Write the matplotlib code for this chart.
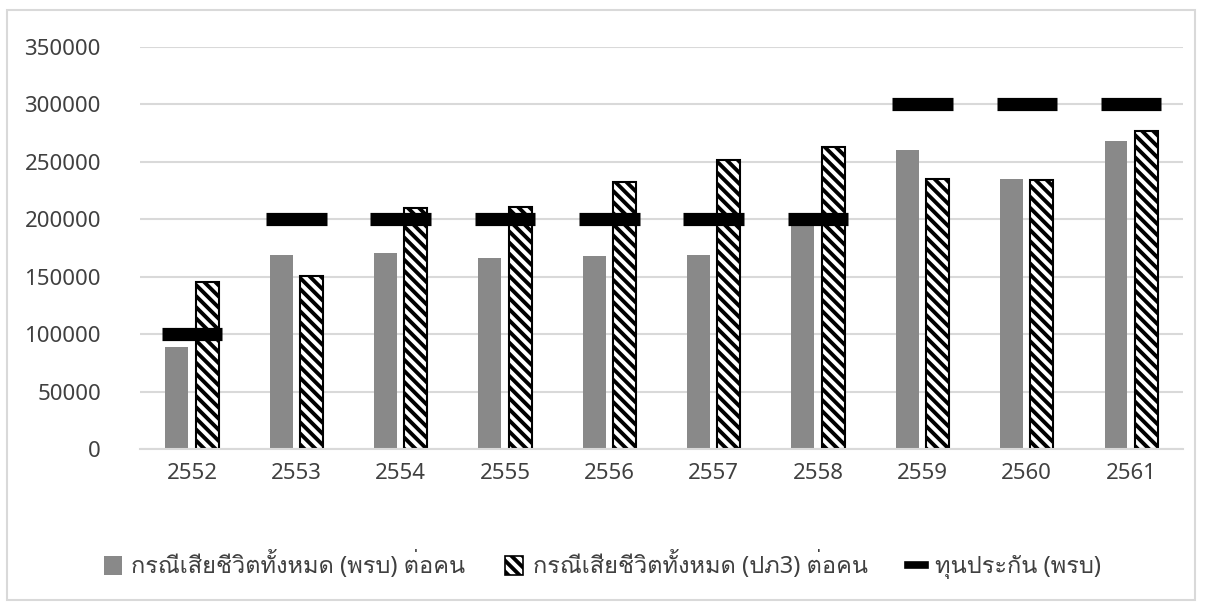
import matplotlib
matplotlib.use("Agg")
import matplotlib.pyplot as plt
import numpy as np
from matplotlib import font_manager
from matplotlib.ft2font import FT2Font
from matplotlib.patches import Patch, Rectangle
from matplotlib.lines import Line2D

years = ["2552", "2553", "2554", "2555", "2556", "2557", "2558", "2559", "2560", "2561"]
death_prb = [88500, 169000, 170500, 166500, 168000, 168500, 197000, 260500, 235000, 268500]
death_pk3 = [145500, 151000, 210000, 211000, 232500, 251500, 263000, 235000, 234000, 276500]
insured_prb = [100000, 200000, 200000, 200000, 200000, 200000, 200000, 300000, 300000, 300000]

labels = ["กรณีเสียชีวิตทั้งหมด (พรบ) ต่อคน",
          "กรณีเสียชีวิตทั้งหมด (ปภ3) ต่อคน",
          "ทุนประกัน (พรบ)"]


# find an installed font that can draw Thai
def thai_font():
    for f in font_manager.fontManager.ttflist:
        try:
            if 0x0E01 in FT2Font(f.fname).get_charmap():
                return f.name
        except Exception:
            pass
    return None


fams = ["Noto Sans", "DejaVu Sans"]
tf = thai_font()
if tf:
    fams = ["Noto Sans", tf, "DejaVu Sans"]
plt.rcParams["font.family"] = fams
plt.rcParams["hatch.linewidth"] = 2.8
plt.rcParams["hatch.color"] = "black"

fig = plt.figure(figsize=(12.05, 6.08), dpi=100)
ax = fig.add_axes([0.116, 0.2615, 0.866, 0.6612])

x = np.arange(len(years))
w = 0.22
ax.bar(x - 0.145, death_prb, w, color="#898989", zorder=2)
ax.bar(x + 0.145, death_pk3, w, color="white", edgecolor="black",
       hatch="\\\\\\", linewidth=1.5, zorder=2)
ax.hlines(insured_prb, x - 0.29, x + 0.29, colors="black", linewidth=9.5, zorder=3)

ax.set_xlim(-0.5, len(years) - 0.5)
ax.set_ylim(0, 350000)
ax.set_yticks(np.arange(0, 350001, 50000))
ax.set_yticklabels([str(v) for v in range(0, 350001, 50000)])
ax.set_xticks(x)
ax.set_xticklabels(years)
ax.grid(axis="y", color="#d9d9d9", linewidth=1.5, zorder=0)
ax.tick_params(axis="y", length=0, pad=28, labelsize=16, colors="#404040")
ax.tick_params(axis="x", length=0, pad=10, labelsize=16, colors="#404040")
for s in ["top", "right", "left"]:
    ax.spines[s].set_visible(False)
ax.spines["bottom"].set_color("#d9d9d9")
ax.spines["bottom"].set_linewidth(1.5)

handles = [Patch(facecolor="#898989", edgecolor="none"),
           Patch(facecolor="white", edgecolor="black", hatch="\\\\\\", linewidth=1.2),
           Line2D([0], [0], color="black", linewidth=5.5)]
fig.legend(handles, labels, loc="center", bbox_to_anchor=(0.5, 0.07), ncol=3,
           frameon=False, fontsize=17, handlelength=0.75, handleheight=0.85,
           handletextpad=0.4, columnspacing=1.7, labelcolor="#404040")

fig.patches.append(Rectangle((0.006, 0.013), 0.986, 0.97, transform=fig.transFigure,
                             fill=False, edgecolor="#d9d9d9", linewidth=1.5))

fig.savefig("out.png", dpi=100)
